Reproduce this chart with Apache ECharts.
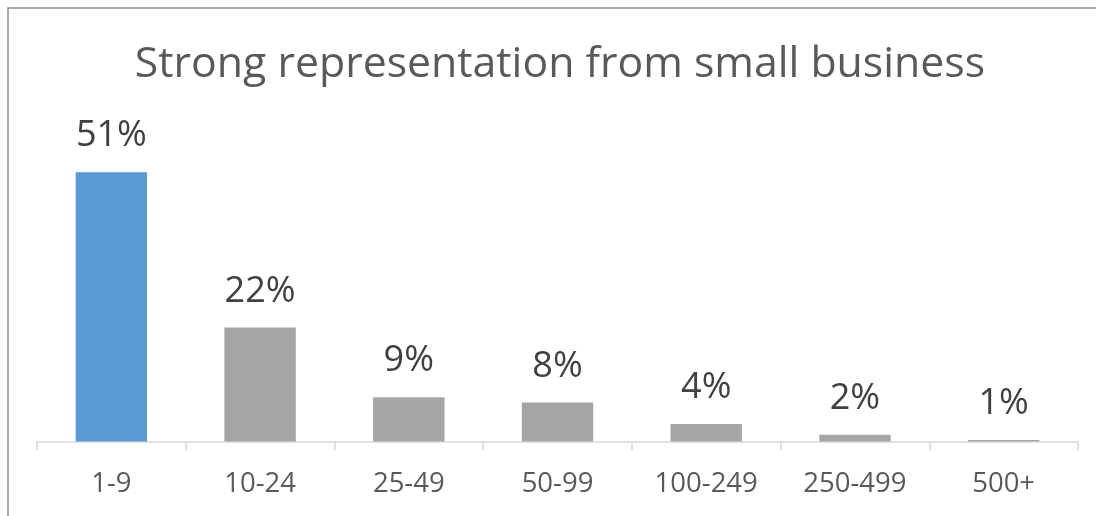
<!DOCTYPE html>
<html>
<head>
<meta charset="utf-8">
<script src="https://cdn.jsdelivr.net/npm/echarts@6/dist/echarts.min.js"></script>
<style>
html,body{margin:0;padding:0;background:#fff;}
#chart{width:1096px;height:516px;}
</style>
</head>
<body>
<div id="chart"></div>
<script>
const title = 'Strong representation from small business';
const categories = ['1-9', '10-24', '25-49', '50-99', '100-249', '250-499', '500+'];
const values = [51, 22, 9, 8, 4, 2, 1];
const valueLabels = ['51%', '22%', '9%', '8%', '4%', '2%', '1%'];
const highlightIndex = 0;

const chart = echarts.init(document.getElementById('chart'), null, {renderer: 'canvas'});
const FONT = '"Open Sans", sans-serif';
chart.setOption({
  animation: false,
  backgroundColor: '#ffffff',
  title: {
    text: title,
    left: 555,
    textAlign: 'center',
    top: 38,
    textStyle: {fontFamily: FONT, fontSize: 42.8, fontWeight: 'normal', color: '#595959'}
  },
  graphic: [{
    type: 'rect',
    shape: {x: 8, y: 8, width: 1200, height: 700},
    style: {fill: 'none', stroke: '#8c8c8c', lineWidth: 1.5},
    silent: true, z: 100
  }],
  grid: {left: 37, right: 18, top: 124, bottom: 74.5},
  xAxis: {
    type: 'category',
    data: categories,
    axisLine: {lineStyle: {color: '#d9d9d9', width: 1.5}},
    axisTick: {show: true, length: 9, lineStyle: {color: '#d9d9d9', width: 1.5}},
    axisLabel: {fontFamily: FONT, fontSize: 27.5, color: '#595959', margin: 29}
  },
  yAxis: {
    type: 'value',
    min: 0.72, max: 60,
    show: false,
    splitLine: {show: false}
  },
  series: [{
    type: 'bar',
    clip: true,
    barWidth: '48%',
    data: values.map((v, i) => ({
      value: v,
      itemStyle: {color: i === highlightIndex ? '#5B9BD5' : '#A5A5A5'}
    })),
    label: {
      show: true,
      position: 'top',
      distance: 18,
      fontFamily: FONT,
      fontSize: 36,
      color: '#404040',
      formatter: p => valueLabels[p.dataIndex]
    }
  }]
});
</script>
</body>
</html>
